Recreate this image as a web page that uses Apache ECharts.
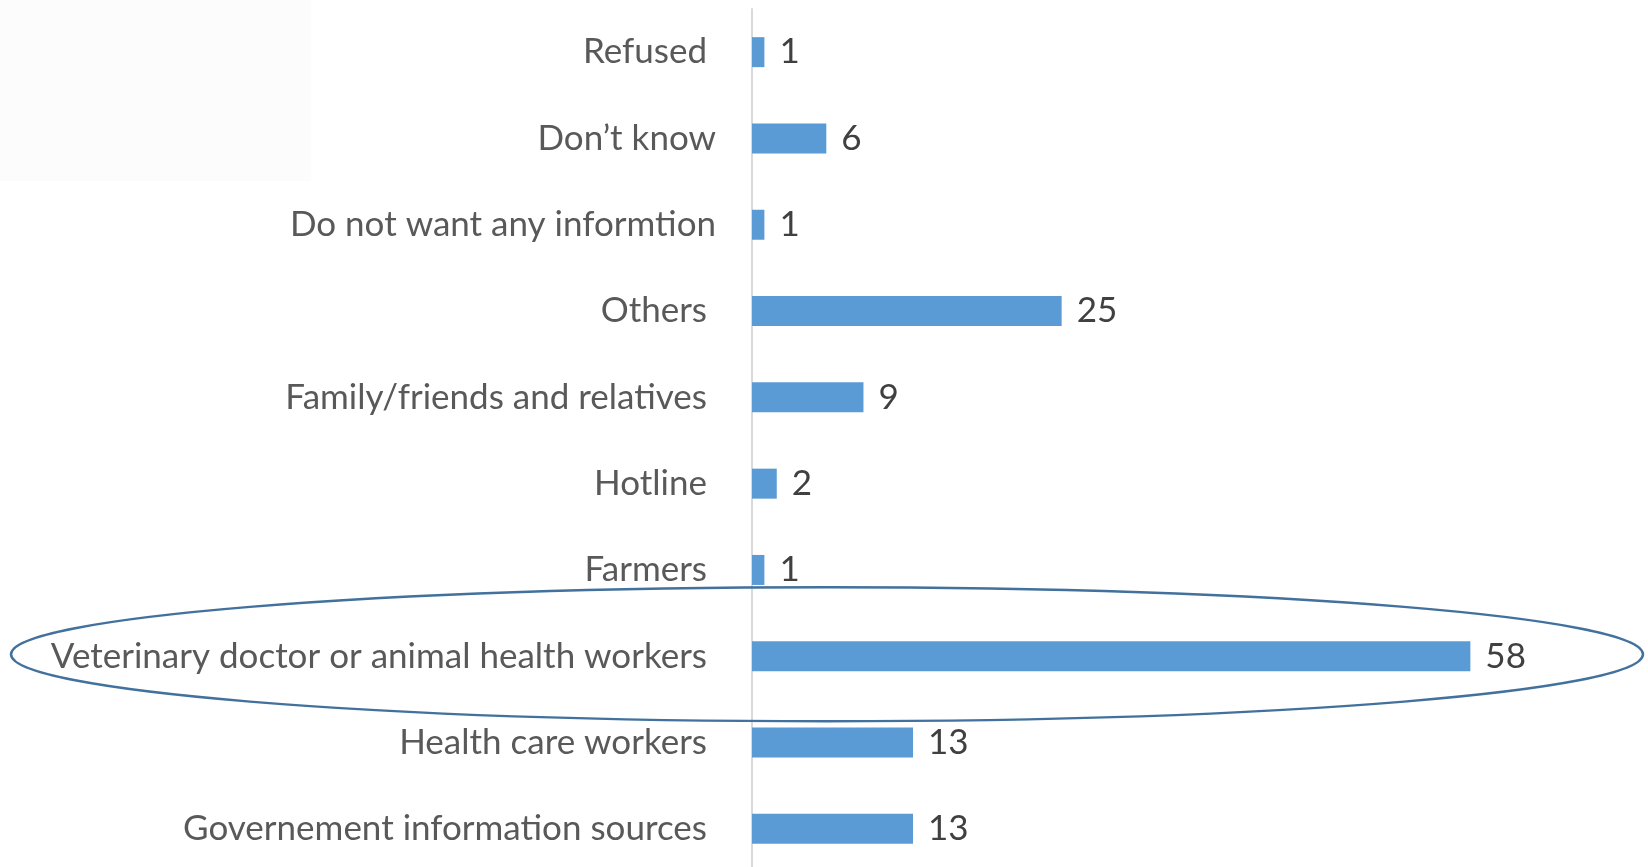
<!DOCTYPE html>
<html>
<head>
<meta charset="utf-8">
<title>Information sources</title>
<script src="https://cdn.jsdelivr.net/npm/echarts@6/dist/echarts.min.js"></script>
<style>
  html, body { margin: 0; padding: 0; background: #ffffff; }
  #chart { width: 1648px; height: 867px; }
</style>
</head>
<body>
<div id="chart"></div>
<script>
// Categories listed top to bottom
const categories = [
  'Refused',
  'Don\u2019t know',
  'Do not want any informtion',
  'Others',
  'Family/friends and relatives',
  'Hotline',
  'Farmers',
  'Veterinary doctor or animal health workers',
  'Health care workers',
  'Governement information sources'
];
const counts = [1, 6, 1, 25, 9, 2, 1, 58, 13, 13];
// Labels that sit a little closer to the axis
const nearLabels = ['Don\u2019t know', 'Do not want any informtion'];
const highlighted = 'Veterinary doctor or animal health workers';

const FONT = 'Lato, "Open Sans", sans-serif';
const FS = 35;
const chart = echarts.init(document.getElementById('chart'), null, { renderer: 'canvas' });

const option = {
  animation: false,
  backgroundColor: '#ffffff',
  grid: {
    left: 752, top: 9, right: 29, bottom: -5,
    containLabel: false,
    outerBoundsMode: 'none'
  },
  xAxis: {
    type: 'value', min: 0, max: 70, show: false
  },
  yAxis: {
    type: 'category',
    inverse: true,
    data: categories,
    axisLine: { show: true, lineStyle: { color: '#d9d9d9', width: 2 } },
    axisTick: { show: false },
    splitLine: { show: false },
    axisLabel: {
      margin: 36,
      color: '#595959',
      fontFamily: FONT,
      fontSize: FS,
      formatter: function (v) {
        return nearLabels.indexOf(v) >= 0 ? '{n|' + v + '}' : '{f|' + v + '}';
      },
      rich: {
        n: { color: '#595959', fontFamily: FONT, fontSize: FS, padding: [0, 0, 0, 0] },
        f: { color: '#595959', fontFamily: FONT, fontSize: FS, padding: [0, 9, 0, 0] }
      }
    }
  },
  series: [{
    type: 'bar',
    data: counts,
    barWidth: 30,
    itemStyle: { color: '#5b9bd5' },
    label: {
      show: true,
      position: 'right',
      distance: 15,
      color: '#404040',
      fontFamily: FONT,
      fontSize: FS
    }
  }]
};
chart.setOption(option);

// Decorations placed from the axis position of the highlighted category
const hiY = chart.convertToPixel({ yAxisIndex: 0 }, highlighted);
chart.setOption({
  graphic: [
    {
      type: 'rect', z: -10, silent: true,
      shape: { x: 0, y: 0, width: 311, height: 181 },
      style: { fill: '#fcfcfc' }
    },
    {
      type: 'ellipse', z: 100, silent: true,
      shape: { cx: 827, cy: hiY - 2, rx: 816, ry: 67 },
      style: { fill: 'none', stroke: '#41719c', lineWidth: 2.5 }
    }
  ]
});
</script>
</body>
</html>
